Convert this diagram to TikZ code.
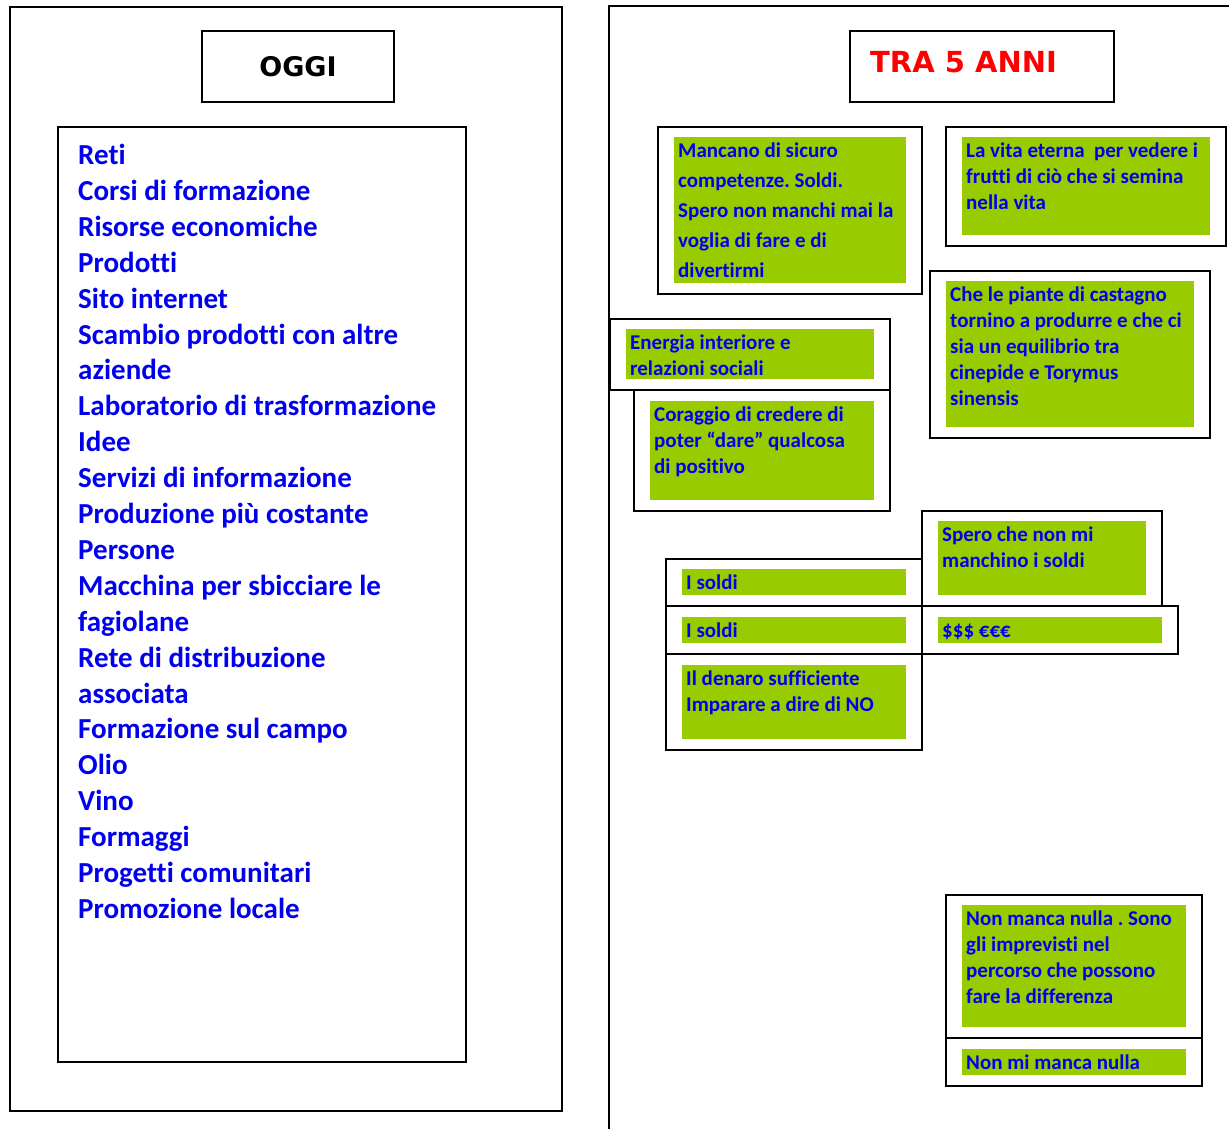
\documentclass[tikz,border=0pt]{standalone}
\usepackage{fontspec}
\setmainfont{Carlito}[Ligatures=NoCommon]
\newfontfamily\titlefont{DejaVu Sans}
\frenchspacing
\definecolor{lgreen}{HTML}{99CC00}
\definecolor{tblue}{HTML}{0000EE}
\definecolor{tred}{HTML}{FF0000}
\begin{document}
\begin{tikzpicture}[x=1pt,y=-1pt,
  frame/.style={draw=black, line width=2, inner sep=0, anchor=north west, fill=white},
  gbox/.style={fill=lgreen, inner sep=0, anchor=north west},
  txt/.style={inner sep=0, anchor=north west, align=left, text=tblue, font=\frenchspacing\bfseries\fontsize{21}{26}\selectfont},
  txtw/.style={txt, font=\frenchspacing\bfseries\fontsize{21}{30}\selectfont},
  listtxt/.style={inner sep=0, anchor=north west, align=left, text=tblue, font=\bfseries\fontsize{29}{35.9}\selectfont},
  title/.style={inner sep=0, font=\titlefont\bfseries\fontsize{27}{32}\selectfont}
]
\useasboundingbox (0,0) rectangle (1229,1128);
\fill[white] (0,0) rectangle (1229,1128);

% ---------- left panel ----------
\node[frame, minimum width=552, minimum height=1104] (leftpanel) at (9,6) {};
\node[frame, minimum width=192, minimum height=71] (oggibox) at (201,30) {};
\node[title, text=black] (oggi) at (oggibox.center) {OGGI};
\node[frame, minimum width=408, minimum height=935] (listbox) at (57,126) {};
\node[listtxt] (list) at (78,139.2) {\strut Reti\\
Corsi di formazione\\
Risorse economiche\\
Prodotti\\
Sito internet\\
Scambio prodotti con altre\\
aziende\\
Laboratorio di trasformazione\\
Idee\\
Servizi di informazione\\
Produzione più costante\\
Persone\\
Macchina per sbicciare le\\
fagiolane\\
Rete di distribuzione\\
associata\\
Formazione sul campo\\
Olio\\
Vino\\
Formaggi\\
Progetti comunitari\\
Promozione locale};

% ---------- right panel ----------
\draw[line width=2] (609,1130) -- (609,6) -- (1231,6);
\node[frame, minimum width=264, minimum height=71] (annibox) at (849,30) {};
\node[title, text=tred, anchor=west, font=\titlefont\bfseries\fontsize{29}{32}\selectfont] (anni) at (870,62) {TRA 5 ANNI};

% box 1
\node[frame, minimum width=264, minimum height=167] (b1) at (657,126) {};
\node[gbox, minimum width=232, minimum height=146] (g1) at (674,137) {};
\node[txtw] (t1) at (678,135.8) {\strut Mancano di sicuro\\competenze. Soldi.\\Spero non manchi mai la\\voglia di fare e di\\divertirmi};

% box 2
\node[frame, minimum width=280, minimum height=119] (b2) at (945,126) {};
\node[gbox, minimum width=248, minimum height=98] (g2) at (962,137) {};
\node[txt] (t2) at (966,138.6) {\strut La vita eterna\ \ per vedere i\\frutti di ciò che si semina\\nella vita};

% box 3
\node[frame, minimum width=280, minimum height=167] (b3) at (929,270) {};
\node[gbox, minimum width=248, minimum height=146] (g3) at (946,281) {};
\node[txt] (t3) at (950,282.6) {\strut Che le piante di castagno\\tornino a produrre e che ci\\sia un equilibrio tra\\cinepide e Torymus\\sinensis};

% box 5 (Coraggio) drawn before box 4
\node[frame, minimum width=256, minimum height=121] (b5) at (633,389) {};
\node[gbox, minimum width=224, minimum height=99] (g5) at (650,401) {};
\node[txt] (t5) at (654,402.6) {\strut Coraggio di credere di\\poter “dare” qualcosa\\di positivo};

% box 4 (Energia)
\node[frame, minimum width=280, minimum height=71] (b4) at (609,318) {};
\node[gbox, minimum width=248, minimum height=50] (g4) at (626,329) {};
\node[txt] (t4) at (630,330.6) {\strut Energia interiore e\\relazioni sociali};

% box 6 (Spero che non mi)
\node[frame, minimum width=240, minimum height=95] (b6) at (921,510) {};
\node[gbox, minimum width=208, minimum height=74] (g6) at (938,521) {};
\node[txt] (t6) at (942,522.6) {\strut Spero che non mi\\manchino i soldi};

% I soldi 1
\node[frame, minimum width=256, minimum height=47] (b7) at (665,558) {};
\node[gbox, minimum width=224, minimum height=26] (g7) at (682,569) {};
\node[txt] (t7) at (686,570.6) {\strut I soldi};

% I soldi 2
\node[frame, minimum width=256, minimum height=48] (b8) at (665,605) {};
\node[gbox, minimum width=224, minimum height=26] (g8) at (682,617) {};
\node[txt] (t8) at (686,618.6) {\strut I soldi};

% $$$
\node[frame, minimum width=256, minimum height=48] (b9) at (921,605) {};
\node[gbox, minimum width=224, minimum height=26] (g9) at (938,617) {};
\node[txt] (t9) at (942,618.6) {\strut \$\$\$ €€€};

% Il denaro
\node[frame, minimum width=256, minimum height=96] (b10) at (665,653) {};
\node[gbox, minimum width=224, minimum height=74] (g10) at (682,665) {};
\node[txt] (t10) at (686,666.6) {\strut Il denaro sufficiente\\Imparare a dire di NO};

% Non manca nulla
\node[frame, minimum width=256, minimum height=143] (b11) at (945,894) {};
\node[gbox, minimum width=224, minimum height=122] (g11) at (962,905) {};
\node[txt] (t11) at (966,906.6) {\strut Non manca nulla . Sono\\gli imprevisti nel\\percorso che possono\\fare la differenza};

% Non mi manca nulla
\node[frame, minimum width=256, minimum height=48] (b12) at (945,1037) {};
\node[gbox, minimum width=224, minimum height=26] (g12) at (962,1049) {};
\node[txt] (t12) at (966,1050.6) {\strut Non mi manca nulla};
\end{tikzpicture}
\end{document}
